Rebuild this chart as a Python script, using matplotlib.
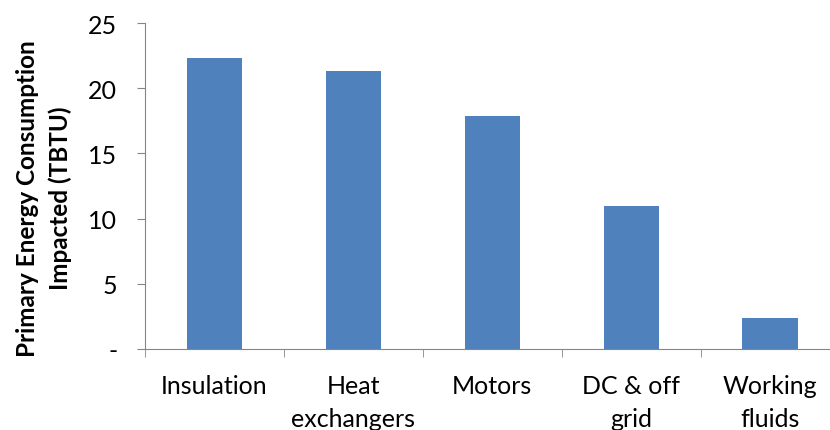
import matplotlib.pyplot as plt
from matplotlib.ticker import FixedLocator

plt.rcParams['font.family'] = ['Lato', 'DejaVu Sans']

# Data
categories = ['Insulation', 'Heat\nexchangers', 'Motors', 'DC & off\ngrid', 'Working\nfluids']
values = [22.3, 21.3, 17.9, 11.0, 2.4]
yticks = [0, 5, 10, 15, 20, 25]
ytick_labels = ['-', '5', '10', '15', '20', '25']

fig = plt.figure(figsize=(8.3, 4.31), dpi=100)
ax = fig.add_axes([0.1747, 0.188, 0.837, 0.756])

x = range(len(categories))
ax.bar(x, values, width=0.4, color='#4F81BD')

ax.set_xlim(-0.5, len(categories) - 0.5)
ax.set_ylim(0, 25)
ax.set_yticks(yticks)
ax.set_yticklabels(ytick_labels, fontsize=18)
ax.set_xticks(list(x))
ax.set_xticklabels(categories, fontsize=18, linespacing=1.55, va='top')
ax.xaxis.set_minor_locator(FixedLocator([i - 0.5 for i in range(len(categories) + 1)]))

ax.tick_params(axis='x', which='major', length=0, pad=18)
ax.tick_params(axis='x', which='minor', length=6, color='#868686')
ax.tick_params(axis='y', length=6, color='#868686', pad=14)

for side in ['top', 'right']:
    ax.spines[side].set_visible(False)
for side in ['left', 'bottom']:
    ax.spines[side].set_color('#868686')

fig.text(0.053, 0.54, 'Primary Energy Consumption\nImpacted (TBTU)', rotation=90,
         ha='center', va='center', multialignment='center',
         fontsize=17.5, fontweight='bold', linespacing=1.5)

fig.savefig('out.png', dpi=100)
